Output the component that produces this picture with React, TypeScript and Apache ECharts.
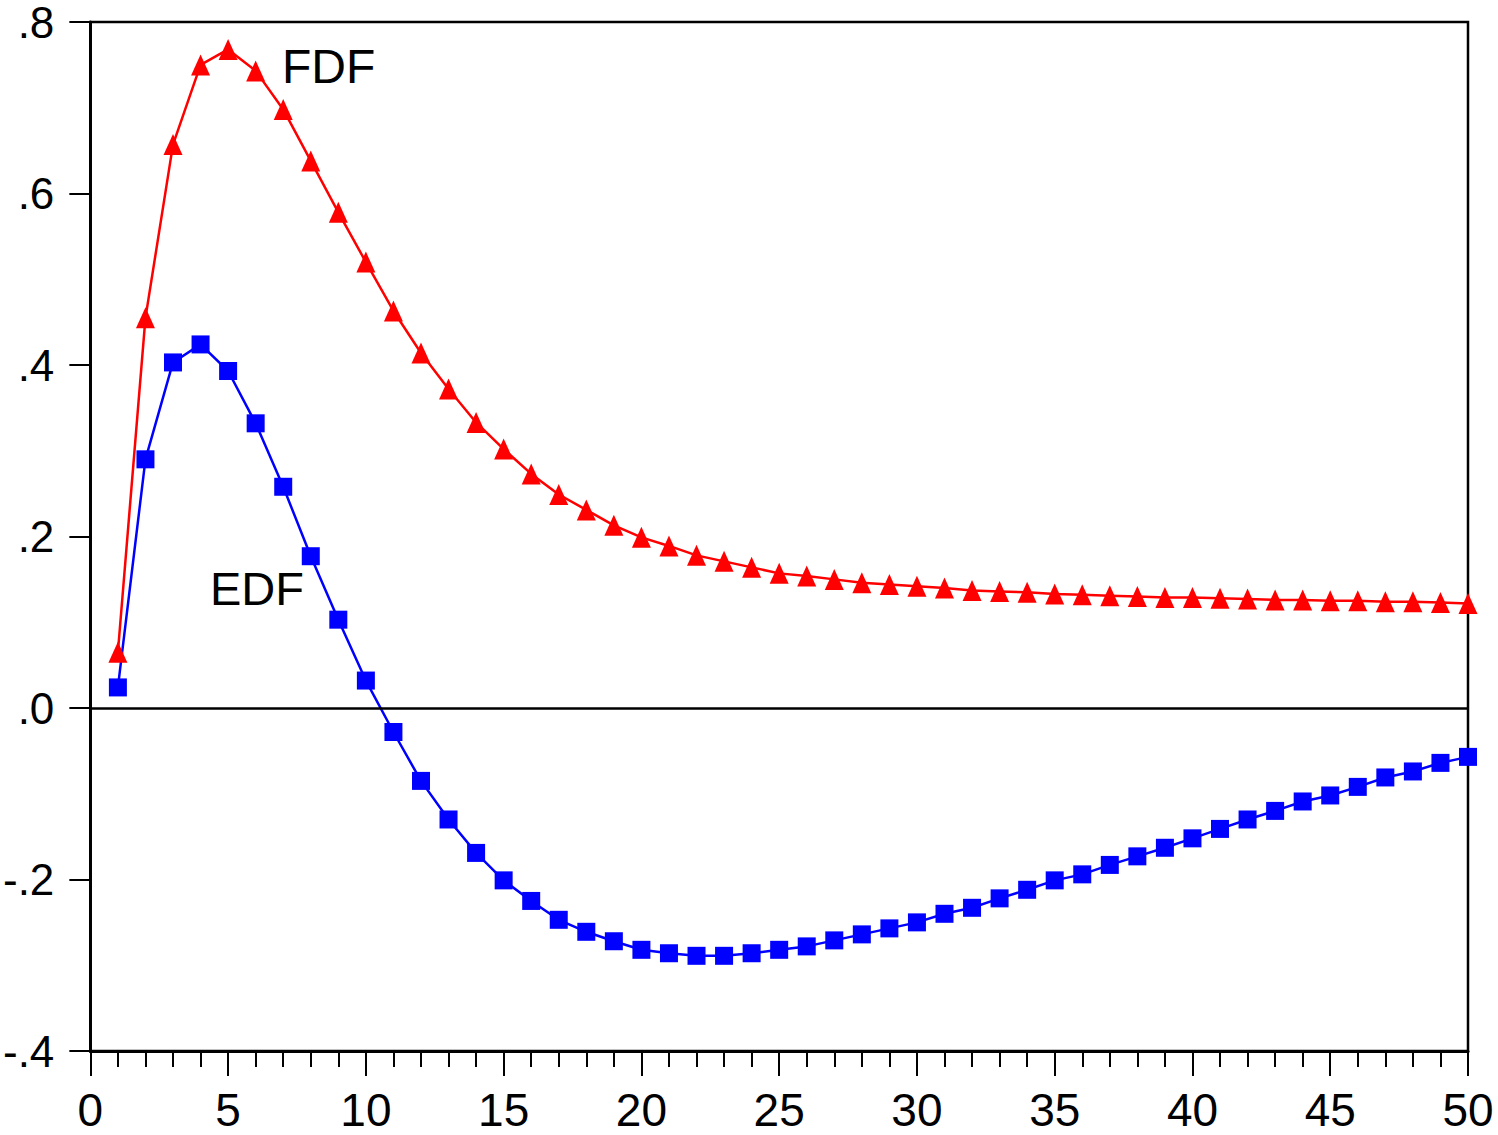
import React, { useEffect, useRef } from "react";
import * as echarts from "echarts";

const periods: number[] = Array.from({ length: 50 }, (_, i) => i + 1);

const fdfValues: number[] = [
  0.065, 0.455, 0.657, 0.750, 0.768, 0.743, 0.698, 0.638, 0.578, 0.520,
  0.463, 0.414, 0.372, 0.333, 0.302, 0.273, 0.249, 0.231, 0.213, 0.199,
  0.189, 0.178, 0.171, 0.164, 0.157, 0.154, 0.150, 0.146, 0.144, 0.142,
  0.140, 0.137, 0.136, 0.135, 0.133, 0.132, 0.131, 0.130, 0.129, 0.129,
  0.128, 0.127, 0.126, 0.126, 0.125, 0.125, 0.124, 0.124, 0.123, 0.122,
];

const edfValues: number[] = [
  0.024, 0.290, 0.403, 0.424, 0.393, 0.332, 0.258, 0.177, 0.103, 0.032,
  -0.028, -0.085, -0.130, -0.169, -0.201, -0.225, -0.247, -0.261, -0.272, -0.282,
  -0.286, -0.289, -0.289, -0.286, -0.282, -0.278, -0.271, -0.264, -0.257, -0.250,
  -0.240, -0.233, -0.222, -0.212, -0.201, -0.194, -0.183, -0.173, -0.163, -0.152,
  -0.141, -0.130, -0.120, -0.109, -0.102, -0.092, -0.081, -0.074, -0.064, -0.057,
];

const seriesNames: string[] = ["EDF", "FDF"];

const FONT = "'Liberation Sans', Arial, sans-serif";

function fmtY(v: number): string {
  const s = v.toFixed(1);
  if (s.startsWith("-0.")) return "-" + s.slice(2);
  if (s.startsWith("0.")) return s.slice(1);
  return s;
}

export default function App() {
  const ref = useRef<HTMLDivElement>(null);

  useEffect(() => {
    if (!ref.current) return;
    const chart = echarts.init(ref.current, null, { renderer: "svg" });
    const edfData = periods.map((p, i) => [p, edfValues[i]]);
    const fdfData = periods.map((p, i) => [p, fdfValues[i]]);

    chart.setOption({
      animation: false,
      backgroundColor: "#ffffff",
      grid: {
        left: 89,
        top: 20,
        width: 1379,
        height: 1031,
        show: true,
        borderColor: "#000",
        borderWidth: 2.5,
        backgroundColor: "transparent",
      },
      xAxis: {
        type: "value",
        min: 0,
        max: 50,
        interval: 5,
        axisLine: { show: true, onZero: false, lineStyle: { color: "#000", width: 3 } },
        axisTick: { show: true, length: 25, lineStyle: { color: "#000", width: 2 } },
        minorTick: { show: true, splitNumber: 5, length: 16, lineStyle: { color: "#000", width: 2 } },
        splitLine: { show: false },
        minorSplitLine: { show: false },
        axisLabel: {
          color: "#000",
          fontSize: 46,
          fontFamily: FONT,
          margin: 36,
        },
      },
      yAxis: {
        type: "value",
        min: -0.4,
        max: 0.8,
        interval: 0.2,
        axisLine: { show: true, onZero: false, lineStyle: { color: "#000", width: 3 } },
        axisTick: { show: true, length: 21, lineStyle: { color: "#000", width: 2 } },
        splitLine: { show: false },
        axisLabel: {
          color: "#000",
          fontSize: 44,
          lineHeight: 30,
          fontFamily: FONT,
          margin: 36,
          formatter: (v: number) => fmtY(v),
        },
      },
      series: [
        {
          name: seriesNames[0],
          type: "line",
          data: edfData,
          symbol: "rect",
          symbolSize: 18,
          showAllSymbol: true,
          lineStyle: { color: "#0000ff", width: 2.5 },
          itemStyle: { color: "#0000ff" },
          markLine: {
            silent: true,
            symbol: ["none", "none"],
            label: { show: false },
            lineStyle: { color: "#000", width: 2.5, type: "solid" },
            data: [{ yAxis: 0 }],
          },
          z: 2,
        },
        {
          name: seriesNames[1],
          type: "line",
          data: fdfData,
          symbol: "triangle",
          symbolSize: [19, 21],
          showAllSymbol: true,
          lineStyle: { color: "#ff0000", width: 2.5 },
          itemStyle: { color: "#ff0000" },
          z: 3,
        },
      ],
      graphic: [
        {
          type: "text",
          left: 282,
          top: 42,
          style: { text: seriesNames[1], fontSize: 48, fontFamily: FONT, fill: "#000" },
          z: 10,
        },
        {
          type: "text",
          left: 210,
          top: 565,
          style: { text: seriesNames[0], fontSize: 47, fontFamily: FONT, fill: "#000" },
          z: 10,
        },
      ],
    });

    return () => {
      chart.dispose();
    };
  }, []);

  return (
    <div
      ref={ref}
      style={{ position: "absolute", left: 0, top: 0, width: 1498, height: 1135, background: "#fff" }}
    />
  );
}
